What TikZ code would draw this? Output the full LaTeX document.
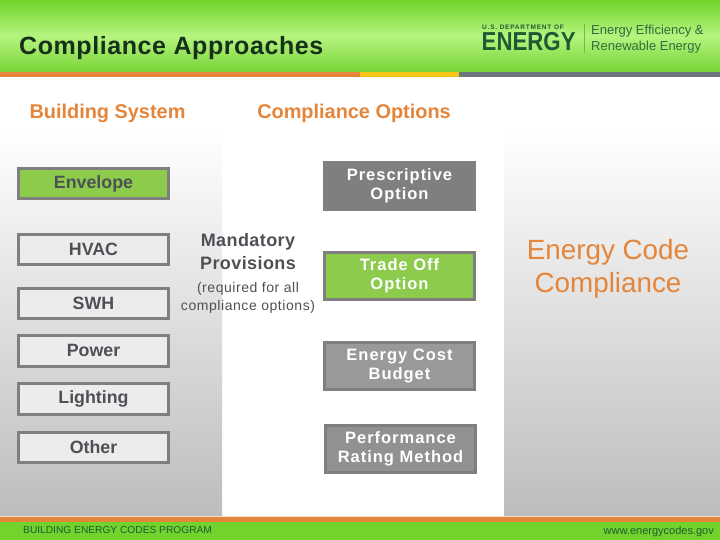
\documentclass[tikz,border=0pt]{standalone}
\usepackage{graphicx}
\usepackage{fontspec}
\setmainfont{Liberation Sans}
\newfontfamily\spaced[LetterSpace=6]{Liberation Sans}
\newfontfamily\spacedb[LetterSpace=4]{Liberation Sans}
\newfontfamily\spacedc[LetterSpace=2.3]{Liberation Sans}
\newfontfamily\spacedd[LetterSpace=12]{Liberation Sans}
\definecolor{bandtop}{HTML}{72D32C}
\definecolor{bandmid}{HTML}{B5F57F}
\definecolor{bandlow}{HTML}{78D236}
\definecolor{acc}{HTML}{E5853A}
\definecolor{ylw}{HTML}{F6C417}
\definecolor{slate}{HTML}{6C7480}
\definecolor{frame}{HTML}{7F7F7F}
\definecolor{leaf}{HTML}{8CCB4C}
\definecolor{pale}{HTML}{ECECEC}
\definecolor{ink}{HTML}{4D5156}
\definecolor{doe}{HTML}{1E5B33}
\definecolor{doelight}{HTML}{2F6E3F}
\definecolor{dark}{HTML}{16301A}
\tikzset{
  sysbox/.style={draw=frame,line width=3pt,fill=pale,minimum width=150pt,minimum height=30pt,inner sep=0pt,text=ink,font=\bfseries\fontsize{17.8}{20}\selectfont},
  sysact/.style={sysbox,fill=leaf},
  optbox/.style={draw=frame,line width=3pt,fill=#1,minimum width=150pt,minimum height=47pt,inner sep=0pt,text=white,align=center,font=\spaced\bfseries\fontsize{16.5}{19}\selectfont},
  heading/.style={text=acc,font=\bfseries\fontsize{19.9}{24}\selectfont,inner sep=0pt},
}
\begin{document}
\begin{tikzpicture}[x=1pt,y=-1pt]
\useasboundingbox (0,0) rectangle (720,540);
\fill[white] (0,0) rectangle (720,540);
% side panels
\shade[top color=white,bottom color=black!26] (0,130) rectangle (222,516);
\shade[top color=white,bottom color=black!26] (504,130) rectangle (720,516);
% header band
\shade[top color=bandtop,bottom color=bandlow,middle color=bandmid] (0,0) rectangle (720,72);
\fill[acc] (0,72) rectangle (360,77);
\fill[ylw] (360,72) rectangle (459,77);
\fill[slate] (459,72) rectangle (720,77);
% footer band
\fill[acc!25] (0,516) rectangle (720,517);
\fill[acc] (0,517) rectangle (720,522);
\fill[bandtop] (0,522) rectangle (720,540);
% title and logo
\node[anchor=west,inner sep=0pt,text=dark,font=\spacedc\bfseries\fontsize{25}{28}\selectfont] (title) at (19,48.5) {Compliance Approaches};
\node[anchor=west,inner sep=0pt,text=doe,font=\spacedd\bfseries\fontsize{6.5}{7}\selectfont] (dept) at (482,27) {U.S. DEPARTMENT OF};
\node[anchor=west,inner sep=0pt,text=doe,font=\bfseries\fontsize{26}{28}\selectfont] (energy) at (481.5,41.5) {\scalebox{.855}[1]{ENERGY}};
\draw[bandlow!92!black,line width=.5pt] (584,24) -- (584,53);
\node[anchor=north west,inner sep=0pt,align=left,text=doelight,font=\fontsize{13}{16}\selectfont] (eere) at (591,25) {Energy Efficiency \&\\Renewable Energy};
% headings
\node[heading] (hsys) at (107.5,113) {Building System};
\node[heading] (hopt) at (354,113) {Compliance Options};
% building systems
\node[sysact] (envelope) at (93.5,183.5) {Envelope};
\node[sysbox] (hvac) at (93.5,249.5) {HVAC};
\node[sysbox] (swh) at (93.5,303.5) {SWH};
\node[sysbox,minimum height=31pt,text depth=2pt] (power) at (93.5,351) {Power};
\node[sysbox,minimum height=31pt] (lighting) at (93.5,399) {Lighting};
\node[sysbox] (other) at (93.5,447.5) {Other};
% mandatory
\node[text=ink,align=center,inner sep=0pt,font=\spacedc\bfseries\fontsize{18}{23.5}\selectfont] (mand) at (248,251.5) {Mandatory\\Provisions};
\node[text=ink,align=center,inner sep=0pt,font=\spacedb\fontsize{14}{18}\selectfont] (req) at (248,298) {(required for all\\compliance options)};
% options
\node[optbox=frame,draw=none,minimum width=153pt,minimum height=50pt] (presc) at (399.5,186) {Prescriptive\\Option};
\node[optbox=leaf] (trade) at (399.5,276) {Trade Off\\Option};
\node[optbox=black!40] (ecb) at (399.5,366) {Energy Cost\\Budget};
\node[optbox=black!43] (prm) at (400.5,449) {Performance\\Rating Method};
% result
\node[text=acc,align=center,inner sep=0pt,font=\fontsize{27.8}{33}\selectfont] (result) at (608,268.5) {Energy Code\\Compliance};
% footer text
\node[anchor=west,inner sep=0pt,text=doe,font=\fontsize{10.2}{12}\selectfont] (prog) at (23,529.5) {BUILDING ENERGY CODES PROGRAM};
\node[anchor=east,inner sep=0pt,text=doe,font=\fontsize{11}{12}\selectfont] (web) at (714,531.5) {www.energycodes.gov};
\end{tikzpicture}
\end{document}
